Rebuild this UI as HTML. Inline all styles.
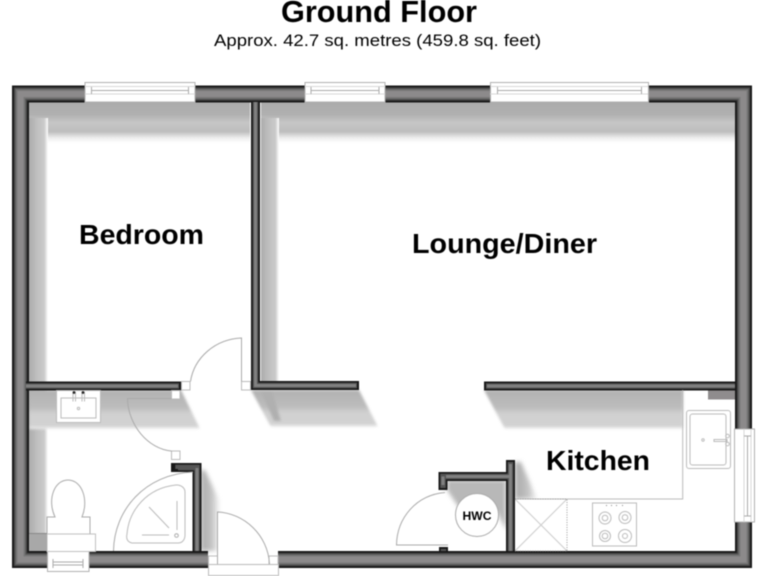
<!DOCTYPE html>
<html><head><meta charset="utf-8"><style>
html,body{margin:0;padding:0;background:#fff;width:768px;height:576px;overflow:hidden}
svg{display:block;filter:blur(0.4px)}
text{font-family:"Liberation Sans",Arial,sans-serif;fill:#000}
</style></head><body>
<svg width="768" height="576" viewBox="0 0 768 576" xmlns="http://www.w3.org/2000/svg">
<defs>
<filter id="b" x="-30%" y="-30%" width="160%" height="160%"><feGaussianBlur stdDeviation="2.2"/></filter>
<filter id="s" x="-10%" y="-10%" width="120%" height="120%"><feGaussianBlur stdDeviation="1.2"/></filter>
<linearGradient id="top" x1="0" y1="0" x2="0" y2="1">
<stop offset="0" stop-color="#acacac"/><stop offset=".3" stop-color="#b0b0b0"/><stop offset=".5" stop-color="#c6c6c6"/><stop offset=".72" stop-color="#bdbdbd"/><stop offset=".88" stop-color="#eee"/><stop offset="1" stop-color="#fff"/></linearGradient>
<linearGradient id="left" x1="0" y1="0" x2="1" y2="0">
<stop offset="0" stop-color="#acacac"/><stop offset=".45" stop-color="#c0c0c0"/><stop offset=".8" stop-color="#cacaca"/><stop offset="1" stop-color="#fff"/></linearGradient>
<linearGradient id="sh" x1="0" y1="0" x2="0" y2="1">
<stop offset="0" stop-color="#b2b2b2"/><stop offset=".45" stop-color="#bcbcbc"/><stop offset=".6" stop-color="#d0d0d0"/><stop offset=".92" stop-color="#d2d2d2"/><stop offset="1" stop-color="#f4f4f4"/></linearGradient>
<linearGradient id="fadeR" x1="0" y1="0" x2="1" y2="0">
<stop offset="0" stop-color="#aaa"/><stop offset=".6" stop-color="#c4c4c4"/><stop offset="1" stop-color="#f4f4f4"/></linearGradient>
</defs>

<text x="379" y="22" font-size="30.5" font-weight="700" text-anchor="middle" textLength="196" lengthAdjust="spacingAndGlyphs">Ground Floor</text>
<text x="377.5" y="46" font-size="17" text-anchor="middle" textLength="327" lengthAdjust="spacingAndGlyphs">Approx. 42.7 sq. metres (459.8 sq. feet)</text>

<!-- shadows -->
<rect x="29" y="102" width="221" height="41" fill="url(#top)"/>
<rect x="261" y="102" width="474" height="41" fill="url(#top)"/>
<rect x="29" y="118" width="19" height="264" fill="url(#left)"/>
<rect x="261" y="118" width="18" height="264" fill="url(#left)"/>
<rect x="29" y="390" width="19" height="161" fill="url(#left)"/>
<g filter="url(#s)">
<polygon points="29,390 181,390 200,429 29,429" fill="url(#sh)"/>
<polygon points="251,390 359,390 378,427 271,427" fill="url(#sh)"/>
<polygon points="484,390 683,390 683,429 505,429" fill="url(#sh)"/>
<polygon points="260,390 272,390 281,421 274,421" fill="#b0b0b0"/>
</g>
<polygon points="201,470 205,470 219,500 219,551 201,551" fill="url(#fadeR)" filter="url(#b)"/>
<polygon points="515,462 521,462 537,499 515,499" fill="url(#fadeR)" filter="url(#b)"/>
<polygon points="447,480 506,480 506,530 497,512 462,512 447,490" fill="#b8b8b8" filter="url(#b)"/>
<rect x="218" y="512" width="60" height="52" fill="#fff"/>
<rect x="515" y="499" width="52" height="52" fill="#fff"/>

<!-- walls: layered strokes -->
<g fill="none" stroke-linejoin="miter">
<path d="M208 559.5H20.5V94H743.5V559.5H278" stroke="#181818" stroke-width="17"/>
<path d="M208 559.5H20.5V94H743.5V559.5H278" stroke="#3c3c3c" stroke-width="13.500"/>
<path d="M208 559.5H20.5V94H743.5V559.5H278" stroke="#5e5e5e" stroke-width="11.500"/>
<path d="M208 559.5H20.5V94H743.5V559.5H278" stroke="#787878" stroke-width="9"/>
<path d="M208 559.5H20.5V94H743.5V559.5H278" stroke="#8c8a8b" stroke-width="6"/>
<path d="M26 386H181M255.5 102V385.5H359M484 386H735M175.5 472V467.5H197V551M443 490V476.5H510.500V551M510.500 460V476M443.500 547V551" stroke="#181818" stroke-width="9"/>
<path d="M26 386H179M255.5 102V385.500H357M486 386H735M178 469V467.500H197V551M443 488V476.500H510.500V551M510.500 462V476M443.500 549V551" stroke="#555" stroke-width="5.500"/>
<path d="M26 386H178M255.5 102V385.500H356M487 386H735M197 468V551M446 476.500H510.500V551M510.500 464V476M443 485V476.500" stroke="#808080" stroke-width="3"/>
</g>

<!-- windows -->
<g fill="#fff" stroke="#b0b0b0" stroke-width="1">
<rect x="85" y="82.500" width="110" height="19.500"/>
<rect x="305" y="82.500" width="80" height="19.500"/>
<rect x="490.500" y="82.500" width="158" height="19.500"/>
<rect x="734.500" y="429" width="20" height="93"/>
<rect x="47.500" y="551.500" width="41.500" height="20"/>
</g>
<g fill="none" stroke="#d8d8d8" stroke-width="1">
<path d="M85 86.500H195M85 94H195M305 86.500H385M305 94H385M490 86.500H648M490 94H648M744 429V522M751 429V522"/>
</g>
<g fill="none" stroke="#aaa" stroke-width="1">
<path d="M91.500 90.500H188.500M91.500 87V94M188.500 87V94M311 90.500H379M311 87V94M379 87V94M497.500 90.500H641.500M497.500 87V94M641.500 87V94M747.500 436V516M744 436H751M744 516H751M53 562H83M53 565H83M53 559V568M83 559V568"/>
</g>

<!-- jambs and door bits -->
<g fill="#fff" stroke="#bbb" stroke-width="1">
<rect x="181.500" y="381.500" width="8.500" height="8.500"/>
<rect x="241.500" y="381.500" width="9" height="8.500"/>
<rect x="171.500" y="390.500" width="8.500" height="8.500"/>
<rect x="171.500" y="451" width="8.500" height="8.500"/>
<rect x="208.500" y="556" width="9" height="8.500"/>
<rect x="269" y="556" width="9" height="8.500"/>
<rect x="208.500" y="564.500" width="70" height="11"/>
</g>
<g fill="none" stroke="#aaa" stroke-width="1">
<path d="M241.500 381.500V338C215 339 194 358 190.500 381.500"/>
<path d="M171.500 398.500H127.500C128 425 148 449 171.500 451"/>
<path d="M217.500 564V512C244 513 268 535 269.500 564"/>
<path d="M448 545H396.500C397 518 416 495 445 492.500"/>
</g>

<!-- sink in bathroom -->
<g fill="#fff" stroke="#bbb" stroke-width="1">
<rect x="56.500" y="390.500" width="44" height="32"/>
<rect x="61" y="398" width="35" height="20" fill="none"/>
<circle cx="78.500" cy="408.500" r="1.200" fill="none"/>
<path d="M73 392V401.500M75.500 392V401.500M82 392V401.500M84.500 392V401.500" fill="none"/>
</g>
<circle cx="74" cy="392.500" r="1.400" fill="#222"/><circle cx="83" cy="392.500" r="1.400" fill="#222"/>

<!-- toilet -->
<g fill="#fff" stroke="#c0c0c0" stroke-width="1">
<path d="M55 517C47 500 54 480 68 480C82 480 89 500 82 517H90V534H47V517Z" stroke="#aaa"/>
<rect x="47" y="534" width="48.500" height="17.500"/>
</g>
<rect x="30" y="534" width="17" height="17" fill="#a8a8a8"/>
<path d="M29 533.500H47" stroke="#888" stroke-width="1"/>

<!-- shower -->
<g fill="none" stroke="#aaa" stroke-width="1">
<path d="M113.500 551C114 510 145 474 193 472"/>
<path d="M132 543C127 542 126 538 127 534C129 510 147 488 176 485C181 484.500 185 488 185 492V535C185 540 182 543 178 543Z" stroke="#bbb"/>
<path d="M149 507L169 528M177 501V530M142 535H169" stroke="#bbb"/>
<circle cx="176.500" cy="535.500" r="1.800"/>
</g>

<!-- kitchen -->
<path d="M682.700 390V499H515" fill="none" stroke="#bbb" stroke-width="1"/>
<rect x="708" y="390.500" width="27" height="9" fill="#8f8c8d"/>
<g fill="none" stroke="#bbb" stroke-width="1">
<rect x="686.500" y="410.500" width="44" height="58" rx="2.500"/>
<rect x="690" y="414" width="36" height="51" rx="2.500"/>
<circle cx="703" cy="440" r="1.200"/>
<path d="M714 439.500H727V441.500H714Z"/>
<circle cx="727.500" cy="436" r="1.800"/><circle cx="727.500" cy="444" r="1.800"/>
<path d="M515 499L567 551M567 499L515 551" stroke="#ccc"/>
<path d="M515 499H567V551H515" stroke="#999" stroke-dasharray="1 1.500"/>
<rect x="592.500" y="503" width="44" height="43"/>
<circle cx="605" cy="518" r="6"/><circle cx="605" cy="518" r="2.800"/>
<circle cx="625" cy="517.500" r="6"/><circle cx="625" cy="517.500" r="2.800"/>
<circle cx="605" cy="536" r="5.500"/><circle cx="605" cy="536" r="2.800"/>
<circle cx="625" cy="536" r="6.500"/><circle cx="625" cy="536" r="2.500"/>
<path d="M606 505.500h1M611 505.500h1M616 505.500h1M622 505.500h1" stroke="#888"/>
</g>

<!-- HWC -->
<circle cx="477" cy="515" r="21.500" fill="#fff" stroke="#aaa" stroke-width="1"/>
<text x="477" y="520" font-size="12" font-weight="700" text-anchor="middle" textLength="29" lengthAdjust="spacingAndGlyphs">HWC</text>

<text x="141.500" y="244" font-size="28" font-weight="700" text-anchor="middle" textLength="125" lengthAdjust="spacingAndGlyphs">Bedroom</text>
<text x="504.500" y="253" font-size="27.500" font-weight="700" text-anchor="middle" textLength="185" lengthAdjust="spacingAndGlyphs">Lounge/Diner</text>
<text x="598" y="470" font-size="28" font-weight="700" text-anchor="middle" textLength="104" lengthAdjust="spacingAndGlyphs">Kitchen</text>
</svg>
</body></html>
